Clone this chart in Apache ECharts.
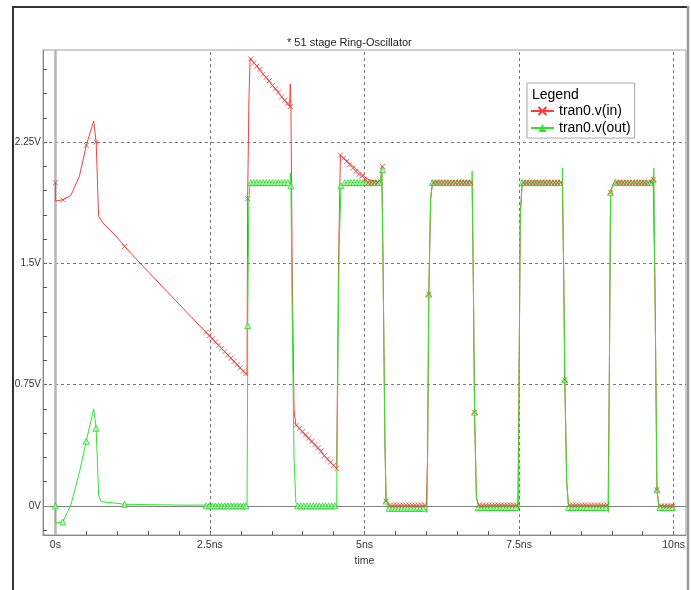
<!DOCTYPE html>
<html>
<head>
<meta charset="utf-8">
<script src="https://cdn.jsdelivr.net/npm/echarts@6/dist/echarts.min.js"></script>
<style>
  html, body { margin: 0; padding: 0; background: #fff; }
  #main { width: 691px; height: 590px; }
</style>
</head>
<body>
<div id="main"></div>
<script>
// time in ns, value in V
var inLine = [
  [0, 2.0], [0, 1.887], [0.12, 1.893], [0.25, 1.92], [0.39, 2.04], [0.5, 2.23],
  [0.62, 2.38], [0.66, 2.25], [0.70, 1.79], [0.77, 1.75], [0.98, 1.67], [1.12, 1.605],
  [1.36, 1.506], [2.17, 1.18], [2.46, 1.064], [3.10, 0.81],
  [3.11, 0.81], [3.11, 1.90], [3.13, 2.5], [3.15, 2.77], [3.79, 2.47], [3.80, 2.61],
  [3.81, 2.47], [3.83, 1.5], [3.86, 0.6], [3.89, 0.50], [4.55, 0.23],
  [4.56, 0.23], [4.58, 1.5], [4.61, 2.17], [5.05, 2.02], [5.26, 2.0], [5.28, 2.10],
  [5.30, 1.5], [5.33, 0.4], [5.35, 0.03], [5.40, 0.0], [6.0, 0.0], [6.02, 0.3],
  [6.04, 1.31], [6.07, 1.9], [6.1, 2.0], [6.74, 2.0], [6.76, 1.4], [6.78, 0.58],
  [6.81, 0.05], [6.85, 0.0], [7.48, 0.0], [7.50, 0.8], [7.52, 1.8], [7.55, 2.0],
  [8.20, 2.0], [8.22, 1.5], [8.24, 0.78], [8.27, 0.15], [8.30, 0.0], [8.94, 0.0],
  [8.96, 0.8], [8.98, 1.94], [9.03, 2.0], [9.67, 2.0], [9.70, 1.3], [9.73, 0.10],
  [9.76, 0.0], [10.0, 0.0]
];

var outLine = [
  [0, 0], [0, -0.105], [0.12, -0.10], [0.25, 0.005], [0.39, 0.21], [0.5, 0.40],
  [0.62, 0.60], [0.66, 0.48], [0.70, 0.067], [0.74, 0.026], [0.9, 0.02], [1.12, 0.01],
  [2.0, 0.005], [3.10, 0.005], [3.11, 0.8], [3.11, 1.115], [3.13, 1.9], [3.15, 2.0],
  [3.80, 2.0], [3.80, 2.06], [3.81, 1.98], [3.83, 1.2], [3.86, 0.3], [3.89, 0.02],
  [3.95, 0.0], [4.55, 0.0], [4.56, 0.5], [4.59, 1.6], [4.62, 1.98], [4.7, 2.0],
  [5.26, 2.0], [5.28, 2.09], [5.30, 1.5], [5.33, 0.4], [5.35, 0.03], [5.40, -0.02],
  [6.0, -0.02], [6.01, -0.04], [6.02, 0.3], [6.04, 1.31], [6.07, 1.9], [6.1, 2.0],
  [6.74, 2.0], [6.74, 2.07], [6.76, 1.4], [6.78, 0.58], [6.81, 0.05], [6.85, -0.01],
  [7.48, 0.0], [7.49, -0.02], [7.50, 0.8], [7.52, 1.8], [7.55, 2.0], [8.20, 2.0],
  [8.20, 2.09], [8.22, 1.5], [8.24, 0.78], [8.27, 0.15], [8.30, 0.0], [8.94, 0.0],
  [8.945, -0.04], [8.96, 0.8], [8.98, 1.94], [9.03, 2.0], [9.67, 2.0], [9.68, 2.09],
  [9.70, 1.3], [9.73, 0.10], [9.76, 0.0], [10.0, 0.0]
];

var inMarks = [
  [0, 2.0], [0.12, 1.893], [0.5, 2.23], [0.66, 2.25], [1.12, 1.605],
  [2.44, 1.074], [2.49, 1.054], [2.54, 1.034], [2.59, 1.014], [2.64, 0.994], [2.69, 0.974],
  [2.74, 0.954], [2.79, 0.934], [2.84, 0.914], [2.89, 0.894], [2.94, 0.874], [2.99, 0.854],
  [3.04, 0.834], [3.08, 0.818],
  [3.11, 1.90],
  [3.16, 2.765], [3.21, 2.74], [3.26, 2.72], [3.31, 2.70], [3.36, 2.67], [3.41, 2.65],
  [3.46, 2.63], [3.51, 2.60], [3.56, 2.58], [3.61, 2.56], [3.66, 2.53], [3.71, 2.51],
  [3.76, 2.49], [3.80, 2.47],
  [3.90, 0.50], [3.95, 0.48], [4.00, 0.46], [4.05, 0.44], [4.10, 0.42], [4.15, 0.40],
  [4.20, 0.38], [4.25, 0.36], [4.30, 0.34], [4.35, 0.31], [4.40, 0.29], [4.45, 0.27],
  [4.50, 0.25], [4.55, 0.23],
  [4.61, 2.17], [4.66, 2.15], [4.71, 2.13], [4.76, 2.11], [4.81, 2.09], [4.86, 2.07],
  [4.91, 2.05], [4.96, 2.04], [5.01, 2.02], [5.06, 2.0], [5.11, 2.0], [5.16, 2.0], [5.21, 2.0],
  [5.29, 2.10], [5.35, 0.03],
  [5.42, 0.005], [5.47, 0.005], [5.52, 0.005], [5.57, 0.005], [5.62, 0.005], [5.67, 0.005],
  [5.72, 0.005], [5.77, 0.005], [5.82, 0.005], [5.87, 0.005], [5.92, 0.005], [5.97, 0.005],
  [6.04, 1.31],
  [6.12, 2.0], [6.17, 2.0], [6.22, 2.0], [6.27, 2.0], [6.32, 2.0], [6.37, 2.0], [6.42, 2.0],
  [6.47, 2.0], [6.52, 2.0], [6.57, 2.0], [6.62, 2.0], [6.67, 2.0], [6.72, 2.0],
  [6.78, 0.58],
  [6.86, 0.005], [6.91, 0.005], [6.96, 0.005], [7.01, 0.005], [7.06, 0.005], [7.11, 0.005],
  [7.16, 0.005], [7.21, 0.005], [7.26, 0.005], [7.31, 0.005], [7.36, 0.005], [7.41, 0.005],
  [7.46, 0.005],
  [7.57, 2.0], [7.62, 2.0], [7.67, 2.0], [7.72, 2.0], [7.77, 2.0], [7.82, 2.0], [7.87, 2.0],
  [7.92, 2.0], [7.97, 2.0], [8.02, 2.0], [8.07, 2.0], [8.12, 2.0], [8.17, 2.0],
  [8.24, 0.78],
  [8.32, 0.005], [8.37, 0.005], [8.42, 0.005], [8.47, 0.005], [8.52, 0.005], [8.57, 0.005],
  [8.62, 0.005], [8.67, 0.005], [8.72, 0.005], [8.77, 0.005], [8.82, 0.005], [8.87, 0.005],
  [8.92, 0.005],
  [8.98, 1.94],
  [9.08, 2.0], [9.13, 2.0], [9.18, 2.0], [9.23, 2.0], [9.28, 2.0], [9.33, 2.0], [9.38, 2.0],
  [9.43, 2.0], [9.48, 2.0], [9.53, 2.0], [9.58, 2.0], [9.64, 2.0],
  [9.67, 2.02], [9.73, 0.10],
  [9.80, 0.0], [9.85, 0.0], [9.90, 0.0], [9.95, 0.0], [9.99, 0.0]
];

var outMarks = [
  [0, 0], [0.12, -0.10], [0.5, 0.40], [0.66, 0.48], [1.12, 0.01],
  [2.44, 0.0], [2.49, 0.0], [2.54, 0.0], [2.59, 0.0], [2.64, 0.0], [2.69, 0.0], [2.74, 0.0],
  [2.79, 0.0], [2.84, 0.0], [2.89, 0.0], [2.94, 0.0], [2.99, 0.0], [3.04, 0.0], [3.08, 0.0],
  [3.11, 1.115],
  [3.16, 2.0], [3.21, 2.0], [3.26, 2.0], [3.31, 2.0], [3.36, 2.0], [3.41, 2.0], [3.46, 2.0],
  [3.51, 2.0], [3.56, 2.0], [3.61, 2.0], [3.66, 2.0], [3.71, 2.0], [3.76, 2.0],
  [3.81, 1.98],
  [3.92, 0.0], [3.97, 0.0], [4.02, 0.0], [4.07, 0.0], [4.12, 0.0], [4.17, 0.0], [4.22, 0.0],
  [4.27, 0.0], [4.32, 0.0], [4.37, 0.0], [4.42, 0.0], [4.47, 0.0], [4.52, 0.0],
  [4.62, 1.98],
  [4.68, 2.0], [4.73, 2.0], [4.78, 2.0], [4.83, 2.0], [4.88, 2.0], [4.93, 2.0], [4.98, 2.0],
  [5.03, 2.0], [5.08, 2.0], [5.13, 2.0], [5.18, 2.0], [5.23, 2.0],
  [5.29, 2.08], [5.35, 0.03],
  [5.40, -0.015], [5.45, -0.015], [5.50, -0.015], [5.55, -0.015], [5.60, -0.015], [5.65, -0.015],
  [5.70, -0.015], [5.75, -0.015], [5.80, -0.015], [5.85, -0.015], [5.90, -0.015], [5.95, -0.015],
  [6.04, 1.31],
  [6.10, 2.0], [6.15, 2.0], [6.20, 2.0], [6.25, 2.0], [6.30, 2.0], [6.35, 2.0], [6.40, 2.0],
  [6.45, 2.0], [6.50, 2.0], [6.55, 2.0], [6.60, 2.0], [6.65, 2.0], [6.70, 2.0],
  [6.78, 0.58],
  [6.84, -0.01], [6.89, -0.01], [6.94, -0.01], [6.99, -0.01], [7.04, -0.01], [7.09, -0.01],
  [7.14, -0.01], [7.19, -0.01], [7.24, -0.01], [7.29, -0.01], [7.34, -0.01], [7.39, -0.01],
  [7.44, -0.01],
  [7.55, 2.0], [7.60, 2.0], [7.65, 2.0], [7.70, 2.0], [7.75, 2.0], [7.80, 2.0], [7.85, 2.0],
  [7.90, 2.0], [7.95, 2.0], [8.00, 2.0], [8.05, 2.0], [8.10, 2.0], [8.15, 2.0],
  [8.24, 0.78],
  [8.30, -0.01], [8.35, -0.01], [8.40, -0.01], [8.45, -0.01], [8.50, -0.01], [8.55, -0.01],
  [8.60, -0.01], [8.65, -0.01], [8.70, -0.01], [8.75, -0.01], [8.80, -0.01], [8.85, -0.01],
  [8.90, -0.01],
  [8.98, 1.94],
  [9.06, 2.0], [9.11, 2.0], [9.16, 2.0], [9.21, 2.0], [9.26, 2.0], [9.31, 2.0], [9.36, 2.0],
  [9.41, 2.0], [9.46, 2.0], [9.51, 2.0], [9.56, 2.0], [9.62, 2.0],
  [9.67, 2.02], [9.73, 0.10],
  [9.78, -0.01], [9.83, -0.01], [9.88, -0.01], [9.93, -0.01], [9.98, -0.01]
];

var xTicks = [0, 0.5, 1, 1.5, 2, 2.5, 3, 3.5, 4, 4.5, 5, 5.5, 6, 6.5, 7, 7.5, 8, 8.5, 9, 9.5, 10];
var xLabels = [0, 2.5, 5, 7.5, 10];
var xLabelText = {0: '0s', 2.5: '2.5ns', 5: '5ns', 7.5: '7.5ns', 10: '10ns'};
var yTicks = [-0.15, 0, 0.15, 0.3, 0.45, 0.6, 0.75, 0.9, 1.05, 1.2, 1.35, 1.5, 1.65, 1.8, 1.95, 2.1, 2.25, 2.4, 2.55, 2.7];
var yLabels = [0, 0.75, 1.5, 2.25];
var gridX = [2.5, 5, 7.5, 10];
var gridY = [0.75, 1.5, 2.25];

var FONT = 'Liberation Sans';
var RED = '#ff3b3b';
var GREEN = '#2de82d';
var xPath = 'path://M0,0L10,10M10,0L0,10';

var chart = echarts.init(document.getElementById('main'));

var guides = [];
gridX.forEach(function (v) {
  guides.push({ xAxis: v, lineStyle: { color: '#777', type: [3, 3], width: 1 } });
});
gridY.forEach(function (v) {
  guides.push({ yAxis: v, lineStyle: { color: '#777', type: [3, 3], width: 1 } });
});
guides.push({ xAxis: 0, lineStyle: { color: '#b4b4b4', type: 'solid', width: 2.5 } });
guides.push({ yAxis: 0, lineStyle: { color: '#808080', type: 'solid', width: 1 } });

var option = {
  animation: false,
  backgroundColor: '#fff',
  title: [{
    text: '* 51 stage Ring-Oscillator',
    left: 287,
    top: 37,
    padding: 0,
    textStyle: { fontSize: 11, fontWeight: 'normal', color: '#222', fontFamily: FONT }
  }, {
    text: 'Legend',
    left: 532,
    top: 88,
    padding: 0,
    z: 10,
    textStyle: { fontSize: 14, fontWeight: 'normal', color: '#000', fontFamily: FONT }
  }],
  graphic: [{
    type: 'polyline',
    shape: { points: [[13, 590], [13, 7], [687, 7]] },
    style: { stroke: '#333', lineWidth: 2, fill: null },
    silent: true
  }, {
    type: 'line',
    shape: { x1: 688, y1: 6, x2: 688, y2: 590 },
    style: { stroke: '#9a9a9a', lineWidth: 2.5 },
    silent: true
  }],
  legend: {
    data: ['tran0.v(in)', 'tran0.v(out)'],
    orient: 'vertical',
    left: 527,
    top: 83,
    padding: [21, 4, 3, 3],
    itemGap: 3,
    itemWidth: 23,
    itemHeight: 10,
    borderColor: '#a8a8a8',
    borderWidth: 1,
    backgroundColor: '#fff',
    z: 9,
    textStyle: { fontSize: 14, color: '#000', fontFamily: FONT, padding: [0, 0, 0, 0] }
  },
  grid: {
    left: 43,
    top: 50,
    right: 5,
    bottom: 55,
    show: true,
    borderColor: '#a0a0a0',
    borderWidth: 1,
    backgroundColor: '#fff'
  },
  xAxis: {
    type: 'value',
    min: -0.2,
    max: 10.2,
    name: 'time',
    nameLocation: 'middle',
    nameGap: 21,
    nameTextStyle: { fontSize: 10.5, color: '#333', fontFamily: FONT },
    axisLine: { show: true, onZero: false, lineStyle: { color: '#888' } },
    axisTick: { show: true, inside: true, length: 4, customValues: xTicks, lineStyle: { color: '#555' } },
    axisLabel: {
      customValues: xLabels,
      margin: 5,
      fontSize: 10.5,
      color: '#333',
      fontFamily: FONT,
      formatter: function (v) { return xLabelText[v]; }
    },
    splitLine: { show: false }
  },
  yAxis: {
    type: 'value',
    min: -0.18,
    max: 2.82,
    axisLine: { show: true, onZero: false, lineStyle: { color: '#888' } },
    axisTick: { show: true, inside: true, length: 4, customValues: yTicks, lineStyle: { color: '#555' } },
    axisLabel: {
      customValues: yLabels,
      margin: 2,
      fontSize: 10,
      color: '#333',
      fontFamily: FONT,
      formatter: function (v) { return v + 'V'; }
    },
    splitLine: { show: false }
  },
  series: [{
    name: 'tran0.v(in)',
    type: 'line',
    data: inLine,
    symbol: xPath,
    symbolSize: 6,
    showSymbol: false,
    lineStyle: { color: RED, width: 1 },
    itemStyle: { color: 'rgba(0,0,0,0)', borderColor: RED, borderWidth: 1 },
    z: 3,
    markLine: {
      silent: true,
      symbol: 'none',
      z: 1,
      label: { show: false },
      data: guides
    }
  }, {
    name: 'tran0.v(out)',
    type: 'line',
    data: outLine,
    symbol: 'triangle',
    symbolSize: 7,
    showSymbol: false,
    lineStyle: { color: GREEN, width: 1 },
    itemStyle: { color: GREEN },
    z: 4
  }, {
    name: 'outMarks',
    type: 'scatter',
    data: outMarks,
    symbol: 'triangle',
    symbolSize: 6,
    itemStyle: { color: 'rgba(190,255,190,0.7)', borderColor: '#22d822', borderWidth: 1 },
    z: 5
  }, {
    name: 'inMarks',
    type: 'scatter',
    data: inMarks,
    symbol: xPath,
    symbolSize: 5,
    itemStyle: { color: 'rgba(0,0,0,0)', borderColor: '#f03c3c', borderWidth: 1 },
    z: 6
  }]
};

chart.setOption(option);
</script>
</body>
</html>
